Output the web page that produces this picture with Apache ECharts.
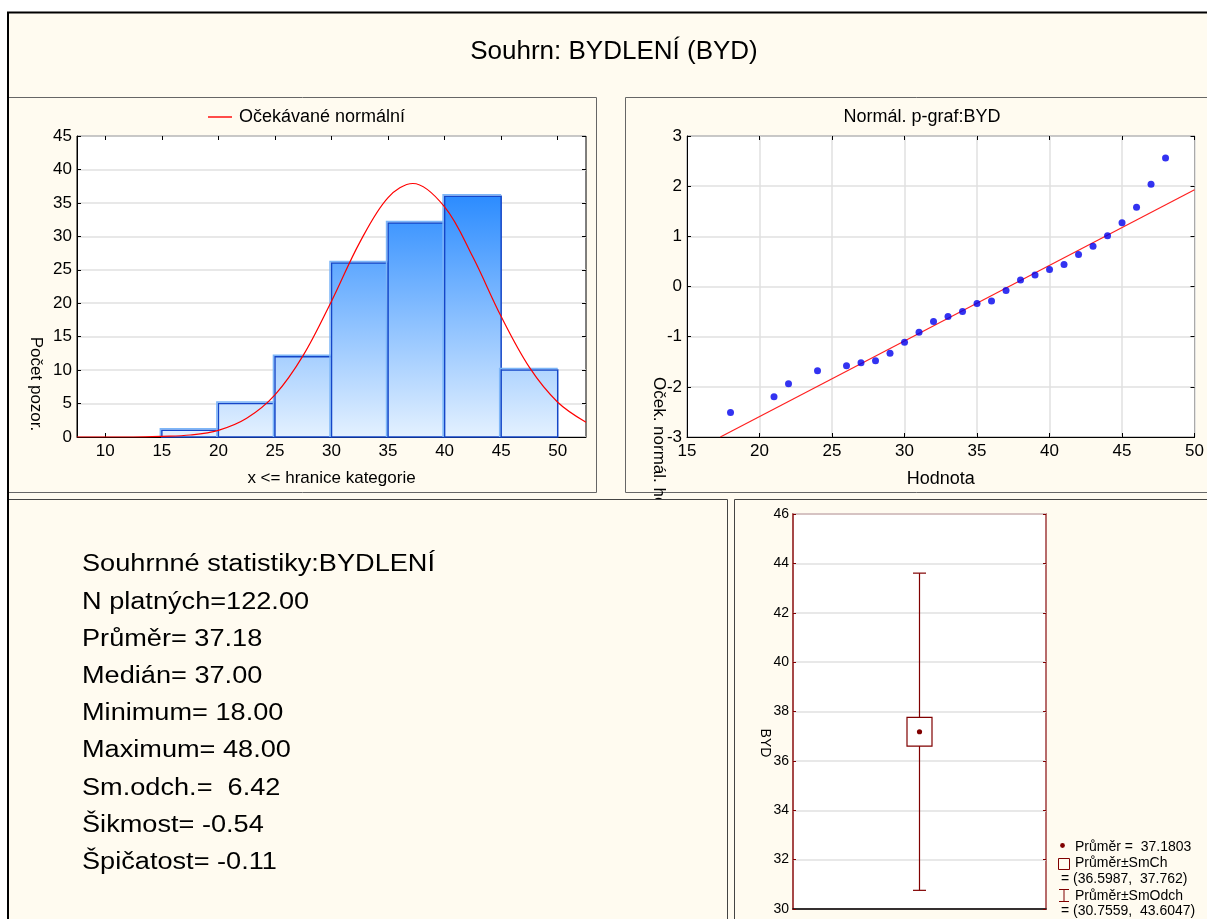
<!DOCTYPE html>
<html><head><meta charset="utf-8">
<script src="https://cdn.jsdelivr.net/npm/echarts@6/dist/echarts.min.js"></script>
<style>html,body{margin:0;padding:0;background:#fff}#c{width:1207px;height:919px}</style>
</head><body><div id="c"></div><script>
// ---------- data ----------
const binEdges = [15, 20, 25, 30, 35, 40, 45, 50];
const binCounts = [1, 5, 12, 26, 32, 36, 10];
const histTicks = [10, 15, 20, 25, 30, 35, 40, 45, 50];
const normalX = [7.5, 10, 12.5, 15, 17.5, 20, 22.5, 25, 27.5, 30, 32.5, 35, 37.2, 40, 42.5, 45, 47.5, 50, 52.5];
const normalY = [0, 0, 0, 0.1, 0.3, 1.0, 2.8, 6.3, 12.2, 20.3, 29.1, 35.8, 37.9, 34.4, 26.9, 18.0, 10.4, 5.2, 2.2];
const ppValues = [18, 21, 22, 24, 26, 27, 28, 29, 30, 31, 32, 33, 34, 35, 36, 37, 38, 39, 40, 41, 42, 43, 44, 45, 46, 47, 48];
const ppExpected = [-2.51, -2.20, -1.94, -1.68, -1.58, -1.52, -1.48, -1.33, -1.11, -0.91, -0.70, -0.60, -0.50, -0.34, -0.29, -0.08, 0.13, 0.23, 0.34, 0.44, 0.64, 0.80, 1.01, 1.27, 1.58, 2.04, 2.56];
const ppLineX = [17.3, 50];
const ppLineY = [-3, 1.93];
const boxCategories = ['BYD'];
const boxMean = [37.1803];
const boxSE = [[36.5987, 37.762]];
const boxSD = [[30.7559, 43.6047]];
const statLines = ['Souhrnné statistiky:BYDLENÍ', 'N platných=122.00', 'Průměr= 37.18', 'Medián= 37.00',
  'Minimum= 18.00', 'Maximum= 48.00', 'Sm.odch.=  6.42', 'Šikmost= -0.54', 'Špičatost= -0.11'];
const boxLegendLines = ['Průměr =  37.1803', 'Průměr±SmCh', '= (36.5987,  37.762)', 'Průměr±SmOdch', '= (30.7559,  43.6047)'];

// ---------- styles ----------
const FONT = 'Liberation Sans, Arial, sans-serif';
const cream = '#FFFBF0';
const gridGray = '#E0E0E0';
const dark = '#800000';
const boxFrame = '#A03C3C';

const chart = echarts.init(document.getElementById('c'), null, {renderer: 'canvas'});

const tickIn = {show: true, inside: true, length: 4, lineStyle: {color: '#000'}};
const lblY = {color: '#000', fontSize: 17, fontFamily: FONT, margin: 5};
const lblX = {color: '#000', fontSize: 17, fontFamily: FONT, margin: 6};

function frameAxis(extra) {
  return Object.assign({show: true, axisLine: {show: false, onZero: false}, axisTick: tickIn, axisLabel: {show: false}, splitLine: {show: false}}, extra);
}

const histData = binCounts.map((c, i) => [binEdges[i], binEdges[i + 1], c]);
const maxCount = Math.max.apply(null, binCounts);

const option = {
  animation: false,
  backgroundColor: '#fff',
  title: [
    {text: 'Souhrn: BYDLENÍ (BYD)', left: 614, top: 39, textAlign: 'center', padding: 0,
      textStyle: {fontSize: 26, fontWeight: 'normal', color: '#000', fontFamily: FONT}},
    {text: 'Normál. p-graf:BYD', left: 922, top: 108, textAlign: 'center', padding: 0,
      textStyle: {fontSize: 18, fontWeight: 'normal', color: '#000', fontFamily: FONT}}
  ],
  legend: {
    data: [{name: 'Očekávané normální', icon: 'rect'}], left: 208, top: 108, padding: 0,
    itemWidth: 24, itemHeight: 1.4, itemGap: 6,
    textStyle: {fontSize: 18, color: '#000', fontFamily: FONT, padding: [0, 0, 0, 2]}, selectedMode: false
  },
  grid: [
    {left: 77, top: 136, width: 509, height: 301, show: true, backgroundColor: '#fff', borderColor: '#000', borderWidth: 1},
    {left: 687, top: 136, width: 512, height: 301, show: true, backgroundColor: '#fff', borderColor: '#000', borderWidth: 1},
    {left: 793, top: 514, width: 253, height: 395, show: true, backgroundColor: '#fff', borderColor: boxFrame, borderWidth: 1.5}
  ],
  xAxis: [
    {gridIndex: 0, type: 'value', min: 7.5, max: 52.5, position: 'bottom',
      axisLine: {show: true, onZero: false, lineStyle: {color: '#000'}},
      axisTick: Object.assign({customValues: histTicks}, tickIn),
      axisLabel: Object.assign({customValues: histTicks}, lblX),
      splitLine: {show: false},
      name: 'x <= hranice kategorie', nameLocation: 'middle', nameGap: 33,
      nameTextStyle: {fontSize: 17, color: '#000', fontFamily: FONT}},
    frameAxis({gridIndex: 0, type: 'value', min: 7.5, max: 52.5, position: 'top',
      axisTick: Object.assign({customValues: histTicks}, tickIn), axisLabel: {show: false, customValues: histTicks}}),
    {gridIndex: 1, type: 'value', min: 15, max: 50, interval: 5, position: 'bottom',
      axisLine: {show: true, onZero: false, lineStyle: {color: '#000'}}, axisTick: tickIn, axisLabel: lblX,
      splitLine: {show: true, lineStyle: {color: gridGray, width: 1.5}},
      name: 'Hodnota', nameLocation: 'middle', nameGap: 33,
      nameTextStyle: {fontSize: 18, color: '#000', fontFamily: FONT}},
    frameAxis({gridIndex: 1, type: 'value', min: 15, max: 50, interval: 5, position: 'top'}),
    {gridIndex: 2, type: 'category', data: boxCategories, position: 'bottom',
      axisLine: {show: true, onZero: false, lineStyle: {color: '#000', width: 1.5}}, axisTick: {show: false}, axisLabel: {show: false}, splitLine: {show: false}}
  ],
  yAxis: [
    {gridIndex: 0, type: 'value', min: 0, max: 45, interval: 5, position: 'left',
      axisLine: {show: true, onZero: false, lineStyle: {color: '#000'}}, axisTick: tickIn, axisLabel: lblY,
      splitLine: {show: true, lineStyle: {color: gridGray, width: 1.5}}},
    frameAxis({gridIndex: 0, type: 'value', min: 0, max: 45, interval: 5, position: 'right'}),
    {gridIndex: 1, type: 'value', min: -3, max: 3, interval: 1, position: 'left',
      axisLine: {show: true, onZero: false, lineStyle: {color: '#000'}}, axisTick: tickIn, axisLabel: lblY,
      splitLine: {show: true, lineStyle: {color: gridGray, width: 1.5}}},
    frameAxis({gridIndex: 1, type: 'value', min: -3, max: 3, interval: 1, position: 'right'}),
    {gridIndex: 2, type: 'value', min: 30, max: 46, interval: 2, position: 'left',
      axisLine: {show: true, onZero: false, lineStyle: {color: boxFrame, width: 1.5}},
      axisTick: {show: true, inside: true, length: 3, lineStyle: {color: dark}},
      axisLabel: {color: '#000', fontSize: 14, fontFamily: FONT, margin: 4},
      splitLine: {show: true, lineStyle: {color: gridGray, width: 1.5}}},
    frameAxis({gridIndex: 2, type: 'value', min: 30, max: 46, interval: 2, position: 'right',
      axisTick: {show: true, inside: true, length: 3, lineStyle: {color: dark}}})
  ],
  series: [
    {
      type: 'custom', name: 'Histogram', xAxisIndex: 0, yAxisIndex: 0, data: histData,
      encode: {x: [0, 1], y: 2}, z: 2,
      renderItem: function (params, api) {
        const lo = api.value(0), hi = api.value(1), v = api.value(2);
        const p0 = api.coord([lo, v]);
        const p1 = api.coord([hi, 0]);
        const yTop = api.coord([lo, maxCount])[1];
        const grad = new echarts.graphic.LinearGradient(0, yTop, 0, p1[1], [
          {offset: 0, color: '#2C8CFF'}, {offset: 1, color: '#E4F1FF'}], true);
        return {type: 'group', children: [
          {type: 'rect', shape: {x: p0[0], y: p0[1], width: p1[0] - p0[0], height: p1[1] - p0[1]},
            style: {fill: grad, stroke: '#1546C8', lineWidth: 1.5}},
          {type: 'polyline', shape: {points: [[p0[0] - 1.5, p1[1]], [p0[0] - 1.5, p0[1] - 1.5], [p1[0], p0[1] - 1.5]]},
            style: {stroke: '#7DB6F8', lineWidth: 1.5, fill: null}}
        ]};
      }
    },
    {
      type: 'line', name: 'Očekávané normální', xAxisIndex: 0, yAxisIndex: 0,
      data: normalX.map((x, i) => [x, normalY[i]]), smooth: 0.35, symbol: 'none', showSymbol: false,
      lineStyle: {color: '#FF0000', width: 1.2}, itemStyle: {color: '#FF0000'}, z: 5
    },
    {
      type: 'line', name: 'Ref', xAxisIndex: 2, yAxisIndex: 2,
      data: ppLineX.map((x, i) => [x, ppLineY[i]]), symbol: 'none',
      lineStyle: {color: '#FF2020', width: 1.2}, z: 4
    },
    {
      type: 'scatter', name: 'Oček. normál. hodnota', xAxisIndex: 2, yAxisIndex: 2,
      data: ppValues.map((x, i) => [x, ppExpected[i]]), symbol: 'circle', symbolSize: 7,
      itemStyle: {color: '#0000EE'}, z: 5
    },
    {
      type: 'custom', name: 'BYD', xAxisIndex: 4, yAxisIndex: 4,
      data: boxCategories.map((c, i) => [i, boxMean[i], boxSE[i][0], boxSE[i][1], boxSD[i][0], boxSD[i][1]]),
      encode: {x: 0, y: [1, 2, 3, 4, 5]},
      renderItem: function (params, api) {
        const i = api.value(0);
        const pm = api.coord([i, api.value(1)]);
        const s0 = api.coord([i, api.value(2)]);
        const s1 = api.coord([i, api.value(3)]);
        const d0 = api.coord([i, api.value(4)]);
        const d1 = api.coord([i, api.value(5)]);
        const cx = pm[0], bw = 12.5, cw = 6.5;
        const ls = {stroke: dark, lineWidth: 1.2};
        return {type: 'group', children: [
          {type: 'line', shape: {x1: cx, y1: d0[1], x2: cx, y2: d1[1]}, style: ls},
          {type: 'line', shape: {x1: cx - cw, y1: d0[1], x2: cx + cw, y2: d0[1]}, style: ls},
          {type: 'line', shape: {x1: cx - cw, y1: d1[1], x2: cx + cw, y2: d1[1]}, style: ls},
          {type: 'rect', shape: {x: cx - bw, y: s1[1], width: 2 * bw, height: s0[1] - s1[1]},
            style: {fill: '#fff', stroke: dark, lineWidth: 1.2}},
          {type: 'circle', shape: {cx: cx, cy: pm[1], r: 2.6}, style: {fill: dark}}
        ]};
      }
    }
  ],
  graphic: {elements: [
    {type: 'rect', z: -10, silent: true, shape: {x: 8, y: 12, width: 1205, height: 912}, style: {fill: cream}},
    {type: 'rect', z: -9, silent: true, shape: {x: 8.5, y: 97.5, width: 588, height: 395}, style: {fill: cream, stroke: '#666', lineWidth: 1}},
    {type: 'rect', z: -9, silent: true, shape: {x: 625.5, y: 97.5, width: 600, height: 395}, style: {fill: cream, stroke: '#666', lineWidth: 1}},
    {type: 'rect', z: -9, silent: true, shape: {x: 734.5, y: 499.5, width: 500, height: 430}, style: {fill: cream, stroke: '#444', lineWidth: 1}},
    // y axis names
    {type: 'text', z: 40, x: 36, y: 384, rotation: -Math.PI / 2,
      style: {text: 'Počet pozor.', x: 0, y: 0, textAlign: 'center', textVerticalAlign: 'middle', fontSize: 17, fontFamily: FONT, fill: '#000'}},
    {type: 'text', z: 40, x: 659, y: 377, rotation: -Math.PI / 2,
      style: {text: 'Oček. normál. hodnota', x: 0, y: 0, textAlign: 'left', textVerticalAlign: 'middle', fontSize: 17, fontFamily: FONT, fill: '#000'}},
    {type: 'text', z: 40, x: 765, y: 743, rotation: -Math.PI / 2,
      style: {text: 'BYD', x: 0, y: 0, textAlign: 'center', textVerticalAlign: 'middle', fontSize: 14, fontFamily: FONT, fill: '#000'}},
    // bottom-left panel (covers overflow of the p-plot axis title)
    {type: 'rect', z: 50, silent: true, shape: {x: 8.5, y: 499.5, width: 719, height: 430}, style: {fill: cream, stroke: '#444', lineWidth: 1}}
  ].concat(statLines.map((t, i) => ({
    type: 'text', z: 60, x: 82, y: 565 + i * 37.2, scaleX: 1.18,
    style: {text: t, x: 0, y: 0, textAlign: 'left', textVerticalAlign: 'middle', fontSize: 23, fontFamily: FONT, fill: '#000'}
  }))).concat([
    {type: 'circle', z: 60, shape: {cx: 1062.5, cy: 845.5, r: 2.4}, style: {fill: dark}},
    {type: 'rect', z: 60, shape: {x: 1058.5, y: 858.5, width: 11, height: 11}, style: {fill: null, stroke: dark, lineWidth: 1}},
    {type: 'polyline', z: 60, shape: {points: [[1059, 889.5], [1069, 889.5]]}, style: {stroke: dark, lineWidth: 1}},
    {type: 'polyline', z: 60, shape: {points: [[1064, 889.5], [1064, 901.5]]}, style: {stroke: dark, lineWidth: 1}},
    {type: 'polyline', z: 60, shape: {points: [[1059, 901.5], [1069, 901.5]]}, style: {stroke: dark, lineWidth: 1}}
  ]).concat(boxLegendLines.map((t, i) => ({
    type: 'text', z: 60, x: (i === 2 || i === 4) ? 1061 : 1075, y: [847, 863, 879, 896, 911][i],
    style: {text: t, x: 0, y: 0, textAlign: 'left', textVerticalAlign: 'middle', fontSize: 14, fontFamily: FONT, fill: '#000'}
  }))).concat([
    {type: 'line', z: 70, silent: true, shape: {x1: 7, y1: 12.5, x2: 1207, y2: 12.5}, style: {stroke: '#000', lineWidth: 2}},
    {type: 'line', z: 70, silent: true, shape: {x1: 8, y1: 12, x2: 8, y2: 919}, style: {stroke: '#000', lineWidth: 2}}
  ])}
};
chart.setOption(option);
</script></body></html>
